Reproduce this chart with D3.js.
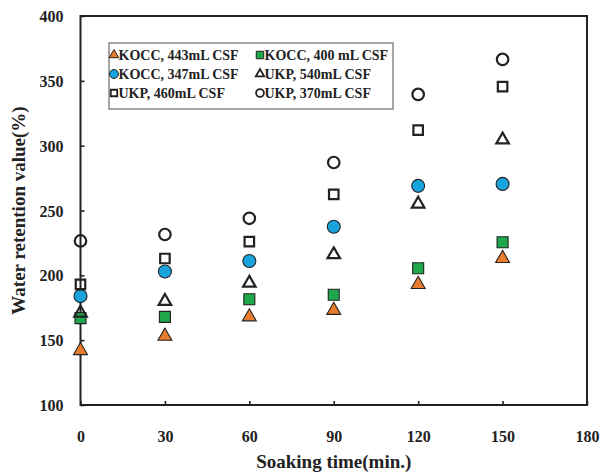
<!DOCTYPE html>
<html><head><meta charset="utf-8">
<script src="https://cdnjs.cloudflare.com/ajax/libs/d3/7.8.5/d3.min.js"></script>
<style>body{margin:0;background:#fff}svg{display:block}</style>
</head><body>
<svg id="c" width="603" height="472"></svg>
<script>
const times = [0, 30, 60, 90, 120, 150];
const xTicks = [0, 30, 60, 90, 120, 150, 180];
const yTicks = [100, 150, 200, 250, 300, 350, 400];
const seriesNames = ["KOCC, 443mL CSF", "KOCC, 400 mL CSF", "KOCC, 347mL CSF", "UKP, 540mL CSF", "UKP, 460mL CSF", "UKP, 370mL CSF"];
const kocc443 = [142, 153, 168, 173, 193, 213];
const kocc400 = [167, 168, 181.5, 185, 205.5, 225.5];
const kocc347 = [184, 203, 211, 237.5, 269, 270.5];
const ukp540 = [171, 180, 194, 216, 255, 304.5];
const ukp460 = [193, 213, 226, 262.5, 312, 345.5];
const ukp370 = [226.5, 231.5, 244, 287, 339.5, 366.5];

const series = [
  {name: seriesNames[0], values: kocc443, shape: "tri", fill: "#E97C2C", hollow: false},
  {name: seriesNames[1], values: kocc400, shape: "sq", fill: "#1FA84B", hollow: false},
  {name: seriesNames[2], values: kocc347, shape: "circ", fill: "#19A3DD", hollow: false},
  {name: seriesNames[3], values: ukp540, shape: "tri", fill: "none", hollow: true},
  {name: seriesNames[4], values: ukp460, shape: "sq", fill: "none", hollow: true},
  {name: seriesNames[5], values: ukp370, shape: "circ", fill: "none", hollow: true}
];

const svg = d3.select("#c");
const L = 80.5, R = 587, T = 16, B = 405;
const x = d3.scaleLinear().domain([0, 180]).range([L, R]);
const y = d3.scaleLinear().domain([100, 400]).range([B, T]);
const font = "'Liberation Serif','Times New Roman',serif";

// axes
const xAxis = svg.append("g").attr("transform", `translate(0,${B})`)
  .call(d3.axisBottom(x).tickValues(xTicks).tickSize(-4));
const yAxis = svg.append("g").attr("transform", `translate(${L},0)`)
  .call(d3.axisLeft(y).tickValues(yTicks).tickSize(-4).tickPadding(17));
[xAxis, yAxis].forEach(g => {
  g.select(".domain").remove();
  g.selectAll("line").attr("stroke", "#222").attr("stroke-width", 1.6);
  g.selectAll("text").attr("font-family", font).attr("font-weight", "bold")
    .attr("font-size", 16).attr("fill", "#222");
});
yAxis.selectAll("text").attr("dy", "0.35em");
xAxis.selectAll("text").attr("y", 37).attr("dy", "0");

// frame
svg.append("rect").attr("x", L).attr("y", T).attr("width", R - L).attr("height", B - T)
  .attr("fill", "none").attr("stroke", "#222").attr("stroke-width", 2);

// titles
svg.append("text").attr("x", (L + R) / 2).attr("y", 468).attr("text-anchor", "middle")
  .attr("font-family", font).attr("font-weight", "bold").attr("font-size", 19).attr("fill", "#222")
  .text("Soaking time(min.)");
svg.append("text").attr("transform", `translate(25,${(T + B) / 2}) rotate(-90)`)
  .attr("text-anchor", "middle").attr("font-family", font).attr("font-weight", "bold")
  .attr("font-size", 19).attr("fill", "#222").text("Water retention value(%)");

function symPath(shape, s) {
  if (shape === "circ") return d3.symbol(d3.symbolCircle, Math.PI * s * s / 4)();
  if (shape === "sq") return d3.symbol(d3.symbolSquare, s * s)();
  return d3.symbol(d3.symbolTriangle, Math.sqrt(3) / 4 * s * s)();
}
function sizeFor(sr, legend) {
  const base = sr.shape === "circ" ? 13 : sr.shape === "sq" ? 11 : 14;
  const b = sr.hollow ? base - 1.5 : base;
  return legend ? b * 0.68 : b;
}

// points
series.forEach(sr => {
  svg.append("g").selectAll("path").data(sr.values).join("path")
    .attr("d", symPath(sr.shape, sizeFor(sr, false)))
    .attr("transform", (d, i) => `translate(${x(times[i])},${y(d)})`)
    .attr("fill", sr.hollow ? "#fff" : sr.fill)
    .attr("fill-opacity", sr.hollow ? 0 : 1)
    .attr("stroke", "#222").attr("stroke-width", sr.hollow ? 2.2 : 1.1);
});

// legend
const lg = svg.append("g");
lg.append("rect").attr("x", 109).attr("y", 43).attr("width", 284).attr("height", 66)
  .attr("fill", "#fff").attr("stroke", "#888").attr("stroke-width", 1.5);
series.forEach((sr, i) => {
  const col = i % 2, row = Math.floor(i / 2);
  const mx = col === 0 ? 114 : 260, my = 55 + row * 19;
  lg.append("path").attr("d", symPath(sr.shape, sizeFor(sr, true)))
    .attr("transform", `translate(${mx},${my})`)
    .attr("fill", sr.hollow ? "none" : sr.fill)
    .attr("stroke", "#222").attr("stroke-width", sr.hollow ? 1.8 : 1);
  lg.append("text").attr("x", mx + 4.5).attr("y", my + 5)
    .attr("font-family", font).attr("font-weight", "bold").attr("font-size", 14)
    .attr("fill", "#222").text(sr.name);
});
</script>
</body></html>
